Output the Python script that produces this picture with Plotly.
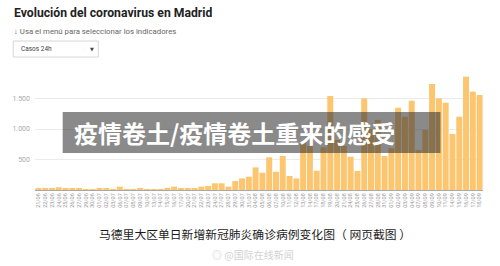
import plotly.graph_objects as go

dates = ["21/06", "22/06", "23/06", "24/06", "25/06", "26/06", "27/06", "29/06", "30/06",
         "01/07", "02/07", "03/07", "06/07", "07/07", "08/07", "09/07", "10/07",
         "13/07", "14/07", "15/07", "16/07", "17/07", "20/07", "21/07", "22/07", "23/07", "24/07",
         "27/07", "28/07", "29/07", "30/07", "31/07", "04/08", "05/08", "06/08", "07/08",
         "10/08", "11/08", "12/08", "13/08", "14/08", "17/08", "18/08", "19/08", "20/08", "21/08",
         "24/08", "25/08", "26/08", "27/08", "28/08", "31/08", "01/09", "02/09", "03/09", "04/09",
         "07/09", "08/09", "09/09", "10/09", "11/09", "14/09", "15/09", "16/09", "17/09", "18/09"]

cases = [20, 20, 22, 45, 33, 33, 33, 12, 12, 33, 33, 15, 55, 15, 15, 35, 12, 12, 12, 35, 55, 30,
         30, 30, 55, 66, 110, 110, 55, 148, 190, 218, 371, 284, 536, 300, 557, 230, 190,
         792, 721, 316, 700, 1541, 820, 721, 546, 311, 1503, 1000, 1150, 557, 683, 1349,
         1202, 1464, 656, 984, 1738, 1503, 1431, 918, 1202, 1858, 1612, 1557]

y_ticks = [500, 1000, 1500]
y_tick_text = ["500", "1.000", "1.500"]

title = "Evolución del coronavirus en Madrid"
subtitle = "↓ Usa el menú para seleccionar los indicadores"
menu_label = "Casos 24h"
banner_text = "疫情卷土/疫情卷土重来的感受"
caption = "马德里大区单日新增新冠肺炎确诊病例变化图（ 网页截图 ）"
watermark = "@国际在线新闻"

W, H = 500, 266
L, R, T, B = 30, 17, 68, 76
pw, ph = W - L - R, H - T - B


def fx(px):
    return (px - L) / pw


def fy(py):
    return (H - B - py) / ph


fig = go.Figure()
fig.add_trace(go.Bar(x=dates, y=cases, marker=dict(color="#FCC671", line=dict(width=0)),
                     hoverinfo="skip"))

latin = "Roboto, Arial, sans-serif"
cjk = "Noto Sans CJK SC"

shapes = [
    dict(type="rect", xref="paper", yref="paper", x0=fx(8), x1=fx(94), y0=fy(57), y1=fy(41),
         line=dict(color="#d6d6d6", width=1), fillcolor="white", layer="above"),
    dict(type="rect", xref="paper", yref="paper", x0=fx(58), x1=fx(440), y0=fy(153), y1=fy(112),
         line=dict(width=0), fillcolor="rgba(50,50,50,0.57)", layer="above"),
]

annotations = [
    dict(text="<b>" + title + "</b>", x=fx(7), y=fy(13), xanchor="left", yanchor="middle",
         font=dict(family=latin, size=12.2, color="#222")),
    dict(text=subtitle, x=fx(7), y=fy(31.5), xanchor="left", yanchor="middle",
         font=dict(family=latin, size=7.8, color="#666")),
    dict(text=menu_label, x=fx(14), y=fy(49), xanchor="left", yanchor="middle",
         font=dict(family=latin, size=6.5, color="#444")),
    dict(text="▼", x=fx(88), y=fy(49), xanchor="center", yanchor="middle",
         font=dict(family="DejaVu Sans", size=5, color="#444")),
    dict(text="<b>" + banner_text + "</b>", x=fx(67), y=fy(132), xanchor="left", yanchor="middle",
         font=dict(family=cjk, size=24, color="white")),
    dict(text=caption, x=fx(252), y=fy(233), xanchor="center", yanchor="middle",
         font=dict(family=cjk, size=11.8, color="#1a1a1a")),
    dict(text="◎ " + watermark, x=fx(250), y=fy(254), xanchor="center", yanchor="middle",
         font=dict(family=cjk, size=10, color="#d2d2d2")),
]
for a in annotations:
    a.update(xref="paper", yref="paper", showarrow=False)

fig.update_layout(
    width=W, height=H, autosize=False,
    margin=dict(l=L, r=R, t=T, b=B, pad=0),
    paper_bgcolor="white", plot_bgcolor="white",
    showlegend=False, bargap=0.12,
    separators=",.",
    shapes=shapes, annotations=annotations,
    xaxis=dict(type="category", tickmode="array", tickvals=dates, ticktext=dates,
               tickangle=-90, tickfont=dict(family=latin, size=5.5, color="#999"),
               showgrid=False, ticks="", showline=True, linecolor="#a8a8a8", linewidth=1,
               fixedrange=True),
    yaxis=dict(range=[0, 2000], tickmode="array", tickvals=y_ticks, ticktext=y_tick_text,
               tickfont=dict(family=latin, size=7, color="#aaa"),
               showgrid=True, gridcolor="#ebebeb", gridwidth=1, zeroline=False,
               ticks="", ticklabelstandoff=4, fixedrange=True),
)

fig.write_html("out.html", config={"displayModeBar": False})
